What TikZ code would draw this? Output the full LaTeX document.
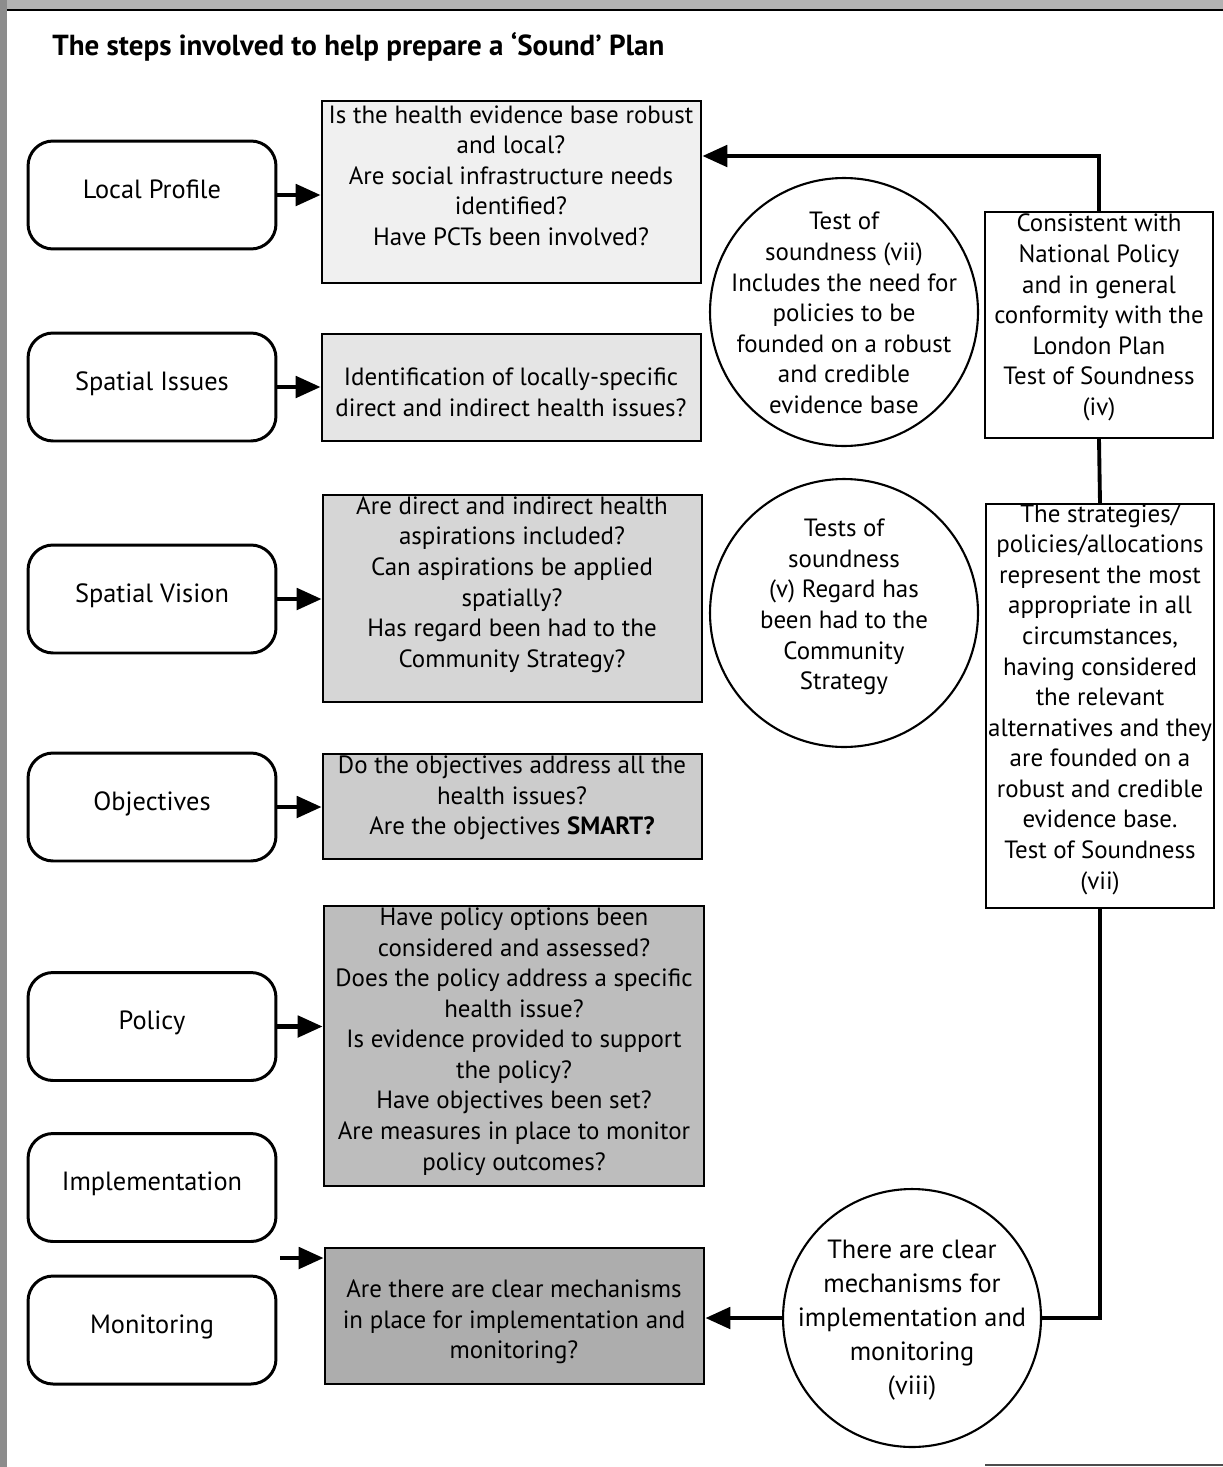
\documentclass[tikz,border=0pt]{standalone}
\usepackage{fontspec}
\setmainfont{PT Sans}
\usetikzlibrary{arrows.meta,calc}
\begin{document}
\begin{tikzpicture}[x=0.02cm,y=-0.02cm,
  stepbox/.style={draw,line width=1.7pt,rounded corners=0.5cm,minimum width=4.96cm,minimum height=2.16cm,font=\fontsize{15}{18}\selectfont,inner sep=0pt,text height=0.3cm,text depth=0.17cm},
  qbox/.style={draw,line width=1.5pt,minimum width=7.58cm,inner sep=0pt},
  rbox/.style={draw,line width=1.2pt,minimum width=4.56cm,inner sep=0pt},
  ring/.style={draw,circle,line width=1.2pt,inner sep=0pt},
  txt/.style={align=center,font=\fontsize{14.2}{17.4}\selectfont,inner sep=0pt},
  conn/.style={line width=2.8pt},
  tip/.style={-{Triangle[length=0.5cm,width=0.42cm]}}]
\useasboundingbox (0,0) rectangle (1223,1467);
% scan edges
\fill[black!30] (0,0) rectangle (1223,9);
\fill[black!45] (0,0) rectangle (7,1467);
\draw[line width=1.5pt] (7,10) -- (1223,10);
\draw[line width=1pt,black!70] (985,1465) -- (1223,1465);
% title
\node[anchor=west,inner sep=0pt,font=\fontsize{16.5}{20}\bfseries] (title) at (52,47) {The steps involved to help prepare a ‘Sound’ Plan};
% steps
\node[stepbox] (lp) at (152,195) {Local Profile};
\node[stepbox] (si) at (152,387) {Spatial Issues};
\node[stepbox] (sv) at (152,599) {Spatial Vision};
\node[stepbox] (ob) at (152,807) {Objectives};
\node[stepbox] (po) at (152,1026.5) {Policy};
\node[stepbox] (im) at (152,1187.5) {Implementation};
\node[stepbox] (mo) at (152,1330) {Monitoring};
% question boxes
\node[qbox,fill=black!6,minimum height=3.64cm] (q1) at (511.5,192) {};
\node[qbox,fill=black!10,minimum height=2.14cm] (q2) at (511.5,387.5) {};
\node[qbox,fill=black!16,minimum height=4.14cm] (q3) at (512.5,598.5) {};
\node[qbox,fill=black!20,minimum height=2.1cm] (q4) at (512.5,806.5) {};
\node[qbox,fill=black!26,minimum width=7.6cm,minimum height=5.6cm] (q5) at (514,1046) {};
\node[qbox,fill=black!32,minimum height=2.72cm] (q6) at (514.5,1316) {};
\node[txt] (t1) at (511,175.5) {Is the health evidence base robust\\and local?\\Are social infrastructure needs\\identified?\\Have PCTs been involved?};
\node[txt] (t2) at (511,392.5) {Identification of locally-specific\\direct and indirect health issues?};
\node[txt] (t3) at (512,584.5) {Are direct and indirect health\\aspirations included?\\Can aspirations be applied\\spatially?\\Has regard been had to the\\Community Strategy?};
\node[txt] (t4) at (512,798) {Do the objectives address all the\\health issues?\\Are the objectives \textbf{SMART?}};
\node[txt] (t5) at (514,1041.5) {Have policy options been\\considered and assessed?\\Does the policy address a specific\\health issue?\\Is evidence provided to support\\the policy?\\Have objectives been set?\\Are measures in place to monitor\\policy outcomes?};
\node[txt] (t6) at (514,1322) {Are there are clear mechanisms\\in place for implementation and\\monitoring?};
% circles
\node[ring,minimum size=5.36cm] (c1) at (844,312) {};
\node[ring,minimum size=5.36cm] (c2) at (844,613) {};
\node[ring,minimum size=5.16cm] (c3) at (912,1318) {};
\node[txt] (ct1) at (844,313) {Test of\\soundness (vii)\\Includes the need for\\policies to be\\founded on a robust\\and credible\\evidence base};
\node[txt] (ct2) at (844,607) {Tests of\\soundness\\(v) Regard has\\been had to the\\Community\\Strategy};
\node[txt,font=\fontsize{15}{19.4}\selectfont] (ct3) at (912,1320) {There are clear\\mechanisms for\\implementation and\\monitoring\\(viii)};
% right boxes
\node[rbox,minimum height=4.52cm] (r1) at (1099,325) {};
\node[rbox,minimum height=8.08cm] (r2) at (1100,706) {};
\node[txt] (rt1) at (1099,317.5) {Consistent with\\National Policy\\and in general\\conformity with the\\London Plan\\Test of Soundness\\(iv)};
\node[txt] (rt2) at (1100,699.5) {The strategies/\\policies/allocations\\represent the most\\appropriate in all\\circumstances,\\having considered\\the relevant\\alternatives and they\\are founded on a\\robust and credible\\evidence base.\\Test of Soundness\\(vii)};
% arrows from steps
\draw[conn,tip] (lp.east) -- (lp.east -| q1.west);
\draw[conn,tip] (si.east) -- (si.east -| q2.west);
\draw[conn,tip] (sv.east) -- (sv.east -| q3.west);
\draw[conn,tip] (ob.east) -- (ob.east -| q4.west);
\draw[conn,tip] (po.east) -- (po.east -| q5.west);
\coordinate (ia) at (280,1258);
\draw[conn,tip] (ia) -- (ia -| q6.west);
% right side connectors
\draw[conn,tip] (r1.north) |- ($(q1.east)+(0,-36)$);
\draw[line width=2.2pt] (r1.south) -- (r2.north);
\draw[conn] (r2.south) |- (c3.east);
\draw[conn,tip] (c3.west) -- (c3.west -| q6.east);
\end{tikzpicture}
\end{document}
